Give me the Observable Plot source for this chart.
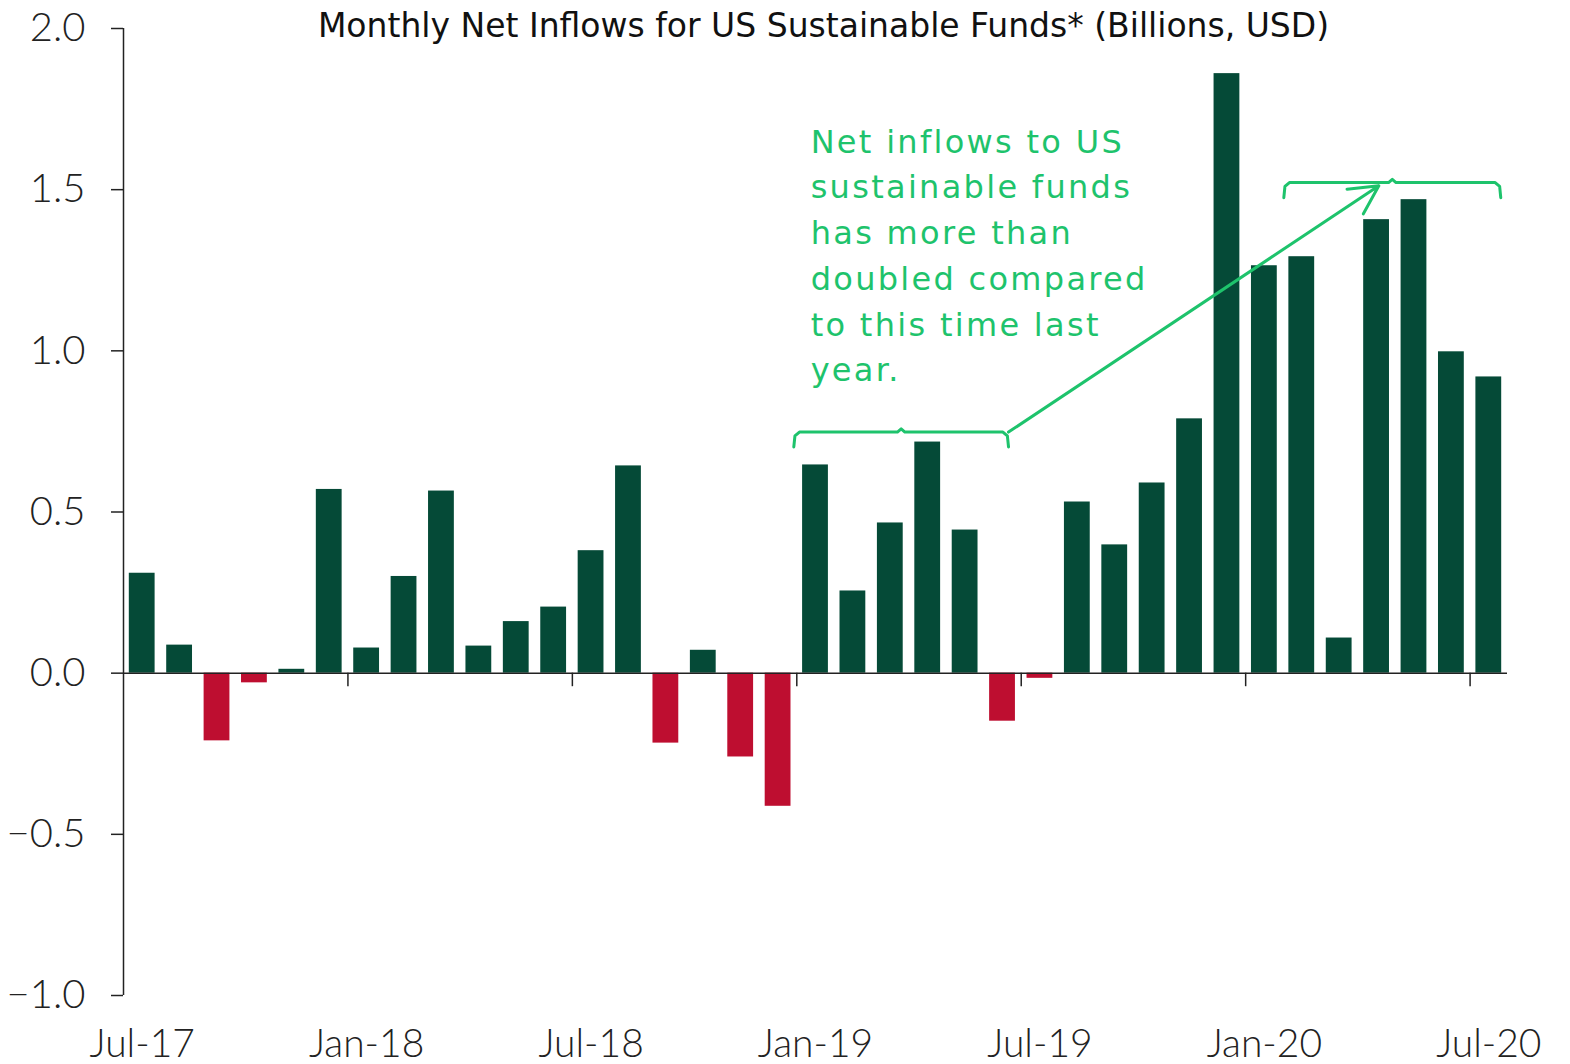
<!DOCTYPE html>
<html>
<head>
<meta charset="utf-8">
<script src="https://cdn.jsdelivr.net/npm/d3@7"></script>
<script src="https://cdn.jsdelivr.net/npm/@observablehq/plot@0.6"></script>
<style>
  html, body { margin: 0; padding: 0; background: #ffffff; }
  #chart { width: 1570px; height: 1064px; }
</style>
</head>
<body>
<div id="chart"></div>
<script>
// ---- Data ----
const months = [
  "Jul-17","Aug-17","Sep-17","Oct-17","Nov-17","Dec-17",
  "Jan-18","Feb-18","Mar-18","Apr-18","May-18","Jun-18",
  "Jul-18","Aug-18","Sep-18","Oct-18","Nov-18","Dec-18",
  "Jan-19","Feb-19","Mar-19","Apr-19","May-19","Jun-19",
  "Jul-19","Aug-19","Sep-19","Oct-19","Nov-19","Dec-19",
  "Jan-20","Feb-20","Mar-20","Apr-20","May-20","Jun-20","Jul-20"
];
const netInflows = [
  0.31, 0.087, -0.21, -0.03, 0.012, 0.57,
  0.078, 0.30, 0.565, 0.084, 0.16, 0.205,
  0.38, 0.643, -0.217, 0.071, -0.26, -0.413,
  0.646, 0.255, 0.466, 0.717, 0.444, -0.149,
  -0.016, 0.531, 0.398, 0.59, 0.789, 1.86,
  1.264, 1.292, 0.109, 1.407, 1.469, 0.997, 0.919
];
const yTicks = [-1, -0.5, 0, 0.5, 1, 1.5, 2];
const xLabelMonths = ["Jul-17","Jan-18","Jul-18","Jan-19","Jul-19","Jan-20","Jul-20"];
const xTickMonths = ["Jan-18","Jul-18","Jan-19","Jul-19","Jan-20","Jul-20"];
const titleText = "Monthly Net Inflows for US Sustainable Funds* (Billions, USD)";
const noteLines = ["Net inflows to US","sustainable funds","has more than","doubled compared","to this time last","year."];
// bracket groups (months compared)
const lastYearSpan = ["Jan-19","Jun-19"];
const thisYearSpan = ["Feb-20","Jul-20"];

// ---- Styles ----
const GREEN = "#054a37";
const RED = "#be0e30";
const BRIGHT = "#1ec36c";
const INK = "#222222";
const FONT = "Lato, 'Open Sans', sans-serif";
const WIDE_FONT = "'DejaVu Sans', 'Open Sans', sans-serif";

const rows = months.map((m, i) => ({i, month: m, value: netInflows[i]}));
const idx = m => months.indexOf(m);

// annotation geometry in data units (index space / value space)
const b1 = {x1: idx(lastYearSpan[0]) - 0.08, x2: idx(lastYearSpan[1]) + 0.66, top: 0.748, bottom: 0.702};
const b2 = {x1: idx(thisYearSpan[0]) + 0.02, x2: idx(thisYearSpan[1]) + 0.82, top: 1.522, bottom: 1.475};
function bracket(b) {
  const mid = (b.x1 + b.x2) / 2;
  return [
    {x: b.x1, y: b.bottom},
    {x: b.x1 + 0.03, y: b.top - 0.012},
    {x: b.x1 + 0.15, y: b.top},
    {x: mid - 0.1, y: b.top},
    {x: mid, y: b.top + 0.01},
    {x: mid + 0.1, y: b.top},
    {x: b.x2 - 0.15, y: b.top},
    {x: b.x2 - 0.03, y: b.top - 0.012},
    {x: b.x2, y: b.bottom}
  ];
}

const chart = Plot.plot({
  width: 1570,
  height: 1064,
  marginTop: 28,
  marginBottom: 69,
  marginLeft: 123,
  marginRight: 63,
  x: {domain: [0, months.length], axis: null},
  y: {domain: [-1, 2], axis: null},
  style: {fontFamily: FONT, background: "#ffffff", color: INK, overflow: "visible"},
  marks: [
    Plot.rectY(rows.filter(d => d.value >= 0), {
      x1: "i", x2: d => d.i + 1, y1: 0, y2: "value",
      fill: GREEN, insetLeft: 5.8, insetRight: 5.8
    }),
    Plot.rectY(rows.filter(d => d.value < 0), {
      x1: "i", x2: d => d.i + 1, y1: 0, y2: "value",
      fill: RED, insetLeft: 5.8, insetRight: 5.8
    }),
    Plot.ruleY([0], {stroke: INK, strokeWidth: 1.5}),
    Plot.ruleX([0], {stroke: INK, strokeWidth: 1.5}),
    Plot.axisY({
      ticks: yTicks, tickFormat: d3.format(".1f"),
      tickSize: 12, tickPadding: 26, fontSize: 40, fontWeight: 300,
      stroke: INK, strokeWidth: 1.5, fill: INK
    }),
    Plot.ruleX(xTickMonths.map(idx), {y1: 0, y2: -0.042, stroke: INK, strokeWidth: 1.5}),
    Plot.axisX({
      ticks: xLabelMonths.map(m => idx(m) + 0.5),
      tickFormat: d => months[Math.round(d - 0.5)],
      tickSize: 0, tickPadding: 34, fontSize: 39, fontWeight: 300, fill: INK
    }),
    Plot.line(bracket(b1), {x: "x", y: "y", stroke: BRIGHT, strokeWidth: 3, strokeLinejoin: "round", strokeLinecap: "round"}),
    Plot.line(bracket(b2), {x: "x", y: "y", stroke: BRIGHT, strokeWidth: 3, strokeLinejoin: "round", strokeLinecap: "round"}),
    Plot.arrow([{}], {
      x1: b1.x2, y1: b1.top, x2: 33.56, y2: 1.512,
      stroke: BRIGHT, strokeWidth: 3, headLength: 16, headAngle: 55
    }),
    Plot.text([noteLines.join("\n")], {
      x: 18.37, y: 1.716, text: d => d,
      textAnchor: "start", lineAnchor: "top", lineHeight: 1.43,
      fontSize: 32, fontFamily: WIDE_FONT, fill: BRIGHT
    }),
    Plot.text([titleText], {
      frameAnchor: "top", text: d => d, dx: 8, dy: -2.5,
      lineAnchor: "middle", fontSize: 33, fontFamily: WIDE_FONT, fill: "#111111"
    })
  ]
});

// widen the annotation's letter spacing to match the reference typeface
d3.select(chart).selectAll(`g[fill="${BRIGHT}"] text`).style("letter-spacing", "2.3px");

document.getElementById("chart").appendChild(chart);
</script>
</body>
</html>
